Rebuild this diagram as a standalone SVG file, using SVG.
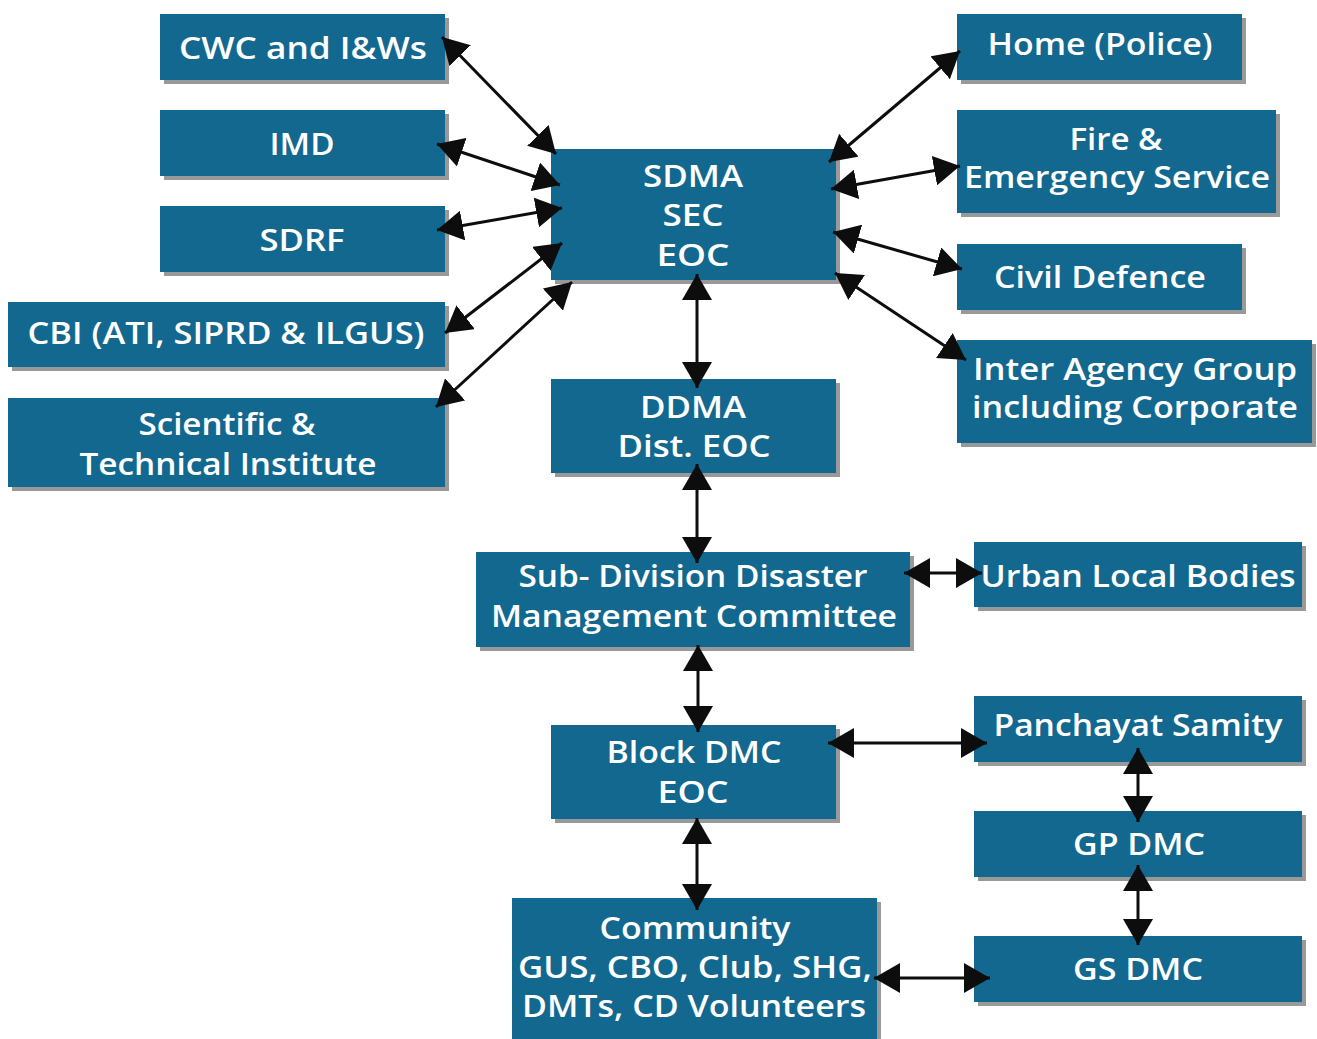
<svg xmlns="http://www.w3.org/2000/svg" width="1317" height="1039" viewBox="0 0 1317 1039">
<style>
.sh{fill:#999999}
.bx{fill:#13688f}
text{font-family:"Open Sans","Noto Sans","Liberation Sans",sans-serif;font-weight:600;font-size:31px;fill:#ffffff;text-anchor:middle}
.cn line{stroke:#0d0d0d;stroke-width:3;marker-start:url(#ah);marker-end:url(#ah)}
</style>
<defs>
<marker id="ah" viewBox="0 0 26 30" refX="26" refY="15" markerWidth="26" markerHeight="30" markerUnits="userSpaceOnUse" orient="auto-start-reverse">
<path d="M0,0 L26,15 L0,30 z" fill="#0d0d0d"/>
</marker>
</defs>
<rect width="1317" height="1039" fill="#ffffff"/>

<g id="cwc"><rect class="sh" x="164" y="18" width="285" height="66"/><rect class="bx" x="160" y="14" width="285" height="66"/><text x="303" y="59" textLength="248" lengthAdjust="spacingAndGlyphs">CWC and I&amp;Ws</text></g>
<g id="imd"><rect class="sh" x="164" y="114" width="285" height="66"/><rect class="bx" x="160" y="110" width="285" height="66"/><text x="302" y="155" textLength="65" lengthAdjust="spacingAndGlyphs">IMD</text></g>
<g id="sdrf"><rect class="sh" x="164" y="210" width="285" height="66"/><rect class="bx" x="160" y="206" width="285" height="66"/><text x="302" y="251" textLength="85" lengthAdjust="spacingAndGlyphs">SDRF</text></g>
<g id="cbi"><rect class="sh" x="12" y="306" width="437" height="65"/><rect class="bx" x="8" y="302" width="437" height="65"/><text x="226" y="344" textLength="397" lengthAdjust="spacingAndGlyphs">CBI (ATI, SIPRD &amp; ILGUS)</text></g>
<g id="sci"><rect class="sh" x="12" y="402" width="437" height="89"/><rect class="bx" x="8" y="398" width="437" height="89"/><text x="227" y="435" textLength="177" lengthAdjust="spacingAndGlyphs">Scientific &amp;</text><text x="228" y="475" textLength="297" lengthAdjust="spacingAndGlyphs">Technical Institute</text></g>

<g id="sdma"><rect class="sh" x="555" y="153" width="285" height="131"/><rect class="bx" x="551" y="149" width="285" height="131"/><text x="693" y="187" textLength="100" lengthAdjust="spacingAndGlyphs">SDMA</text><text x="693" y="226" textLength="61" lengthAdjust="spacingAndGlyphs">SEC</text><text x="693" y="266" textLength="73" lengthAdjust="spacingAndGlyphs">EOC</text></g>

<g id="home"><rect class="sh" x="961" y="18" width="285" height="66"/><rect class="bx" x="957" y="14" width="285" height="66"/><text x="1100" y="55" textLength="225" lengthAdjust="spacingAndGlyphs">Home (Police)</text></g>
<g id="fire"><rect class="sh" x="961" y="114" width="319" height="103"/><rect class="bx" x="957" y="110" width="319" height="103"/><text x="1116" y="150" textLength="93" lengthAdjust="spacingAndGlyphs">Fire &amp;</text><text x="1117" y="188" textLength="306" lengthAdjust="spacingAndGlyphs">Emergency Service</text></g>
<g id="civil"><rect class="sh" x="961" y="248" width="285" height="66"/><rect class="bx" x="957" y="244" width="285" height="66"/><text x="1100" y="288" textLength="212" lengthAdjust="spacingAndGlyphs">Civil Defence</text></g>
<g id="inter"><rect class="sh" x="961" y="344" width="355" height="103"/><rect class="bx" x="957" y="340" width="355" height="103"/><text x="1135" y="380" textLength="324" lengthAdjust="spacingAndGlyphs">Inter Agency Group</text><text x="1135" y="418" textLength="326" lengthAdjust="spacingAndGlyphs">including Corporate</text></g>

<g id="ddma"><rect class="sh" x="555" y="383" width="285" height="94"/><rect class="bx" x="551" y="379" width="285" height="94"/><text x="693" y="418" textLength="106" lengthAdjust="spacingAndGlyphs">DDMA</text><text x="694" y="457" textLength="153" lengthAdjust="spacingAndGlyphs">Dist. EOC</text></g>
<g id="subdiv"><rect class="sh" x="480" y="556" width="434" height="95"/><rect class="bx" x="476" y="552" width="434" height="95"/><text x="693" y="587" textLength="349" lengthAdjust="spacingAndGlyphs">Sub- Division Disaster</text><text x="694" y="627" textLength="406" lengthAdjust="spacingAndGlyphs">Management Committee</text></g>
<g id="urban"><rect class="sh" x="978" y="546" width="328" height="65"/><rect class="bx" x="974" y="542" width="328" height="65"/><text x="1138" y="587" textLength="315" lengthAdjust="spacingAndGlyphs">Urban Local Bodies</text></g>
<g id="block"><rect class="sh" x="555" y="729" width="285" height="94"/><rect class="bx" x="551" y="725" width="285" height="94"/><text x="694" y="763" textLength="175" lengthAdjust="spacingAndGlyphs">Block DMC</text><text x="693" y="803" textLength="71" lengthAdjust="spacingAndGlyphs">EOC</text></g>
<g id="panch"><rect class="sh" x="978" y="700" width="328" height="66"/><rect class="bx" x="974" y="696" width="328" height="66"/><text x="1138" y="736" textLength="289" lengthAdjust="spacingAndGlyphs">Panchayat Samity</text></g>
<g id="gp"><rect class="sh" x="978" y="815" width="328" height="66"/><rect class="bx" x="974" y="811" width="328" height="66"/><text x="1139" y="855" textLength="132" lengthAdjust="spacingAndGlyphs">GP DMC</text></g>
<g id="gs"><rect class="sh" x="978" y="940" width="328" height="66"/><rect class="bx" x="974" y="936" width="328" height="66"/><text x="1138" y="980" textLength="130" lengthAdjust="spacingAndGlyphs">GS DMC</text></g>
<g id="community"><rect class="sh" x="516" y="902" width="365" height="141"/><rect class="bx" x="512" y="898" width="365" height="141"/><text x="695" y="939" textLength="191" lengthAdjust="spacingAndGlyphs">Community</text><text x="695" y="978" textLength="354" lengthAdjust="spacingAndGlyphs">GUS, CBO, Club, SHG,</text><text x="694" y="1017" textLength="344" lengthAdjust="spacingAndGlyphs">DMTs, CD Volunteers</text></g>

<g id="connectors" class="cn">
<line x1="442" y1="37" x2="556" y2="154"/>
<line x1="437" y1="144" x2="560" y2="185"/>
<line x1="437" y1="230" x2="562" y2="208"/>
<line x1="445" y1="333" x2="562" y2="243"/>
<line x1="436" y1="407" x2="572" y2="282"/>
<line x1="960" y1="51" x2="829" y2="162"/>
<line x1="960" y1="166" x2="831" y2="189"/>
<line x1="962" y1="269" x2="833" y2="232"/>
<line x1="966" y1="360" x2="835" y2="273"/>
<line x1="697" y1="274" x2="697" y2="388"/>
<line x1="697" y1="464" x2="697" y2="563"/>
<line x1="698" y1="645" x2="698" y2="732"/>
<line x1="697" y1="818" x2="697" y2="910"/>
<line x1="904" y1="573" x2="982" y2="573"/>
<line x1="828" y1="743" x2="987" y2="743"/>
<line x1="1138" y1="748" x2="1138" y2="822"/>
<line x1="1138" y1="865" x2="1138" y2="945"/>
<line x1="874" y1="978" x2="990" y2="978"/>
</g>
</svg>
